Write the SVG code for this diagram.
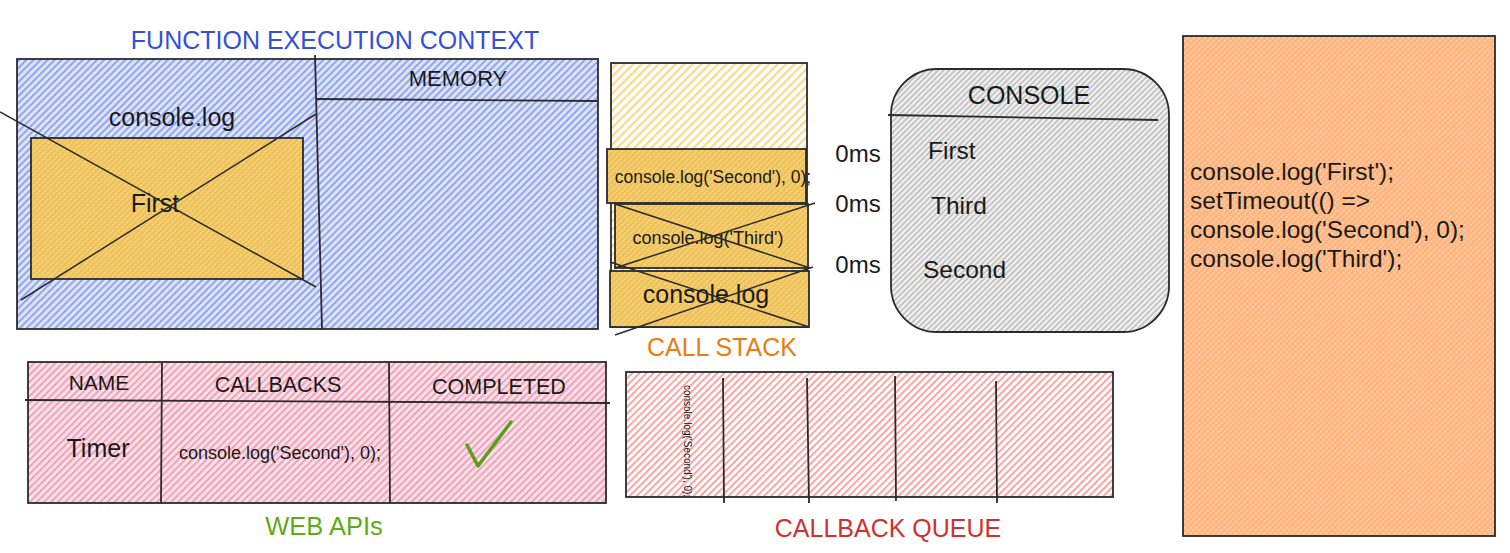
<svg xmlns="http://www.w3.org/2000/svg" width="1510" height="553" viewBox="0 0 1510 553">
<style>
text{font-family:"Liberation Sans",Arial,sans-serif;fill:#1a1a1a}
.box{stroke:#2b2b2b;stroke-width:1.8}
.ln{stroke:#2b2b2b;stroke-width:1.8;fill:none}
.x{stroke:#2b2b2b;stroke-width:1.5;fill:none}
.c{text-anchor:middle}
</style>
<defs>
<pattern id="pBlue" width="5" height="5" patternUnits="userSpaceOnUse" patternTransform="rotate(45)">
<rect width="5" height="5" fill="#dde3fb"/><line x1="1" y1="0" x2="1" y2="5" stroke="#8a9fec" stroke-width="1.8"/></pattern>
<pattern id="pYel" width="4" height="4" patternUnits="userSpaceOnUse" patternTransform="rotate(45)">
<rect width="4" height="4" fill="#f6d27c"/><line x1="1" y1="0" x2="1" y2="4" stroke="#e6b43e" stroke-width="1.2"/><line x1="0" y1="1" x2="4" y2="1" stroke="#f2c45a" stroke-width="1"/></pattern>
<pattern id="pYelLight" width="6" height="6" patternUnits="userSpaceOnUse" patternTransform="rotate(45)">
<rect width="6" height="6" fill="#fff"/><line x1="1" y1="0" x2="1" y2="6" stroke="#fbd98a" stroke-width="2.5"/></pattern>
<pattern id="pPink" width="5" height="5" patternUnits="userSpaceOnUse" patternTransform="rotate(45)">
<rect width="5" height="5" fill="#fbe0e7"/><line x1="1" y1="0" x2="1" y2="5" stroke="#ef9cb3" stroke-width="1.8"/></pattern>
<pattern id="pRed" width="5" height="5" patternUnits="userSpaceOnUse" patternTransform="rotate(45)">
<rect width="5" height="5" fill="#fff"/><line x1="1" y1="0" x2="1" y2="5" stroke="#ffa3a3" stroke-width="2"/></pattern>
<pattern id="pGray" width="4" height="4" patternUnits="userSpaceOnUse" patternTransform="rotate(45)">
<rect width="4" height="4" fill="#f2f2f2"/><line x1="1" y1="0" x2="1" y2="4" stroke="#a8a8a8" stroke-width="1.2"/></pattern>
<pattern id="pOrange" width="4" height="4" patternUnits="userSpaceOnUse" patternTransform="rotate(45)">
<rect width="4" height="4" fill="#ffcba6"/><line x1="1" y1="0" x2="1" y2="4" stroke="#ffa866" stroke-width="1.3"/><line x1="0" y1="1" x2="4" y2="1" stroke="#ffb076" stroke-width="1.1"/></pattern>
</defs>
<rect width="1510" height="553" fill="#fff"/>

<g id="fec">
<text x="335" y="49" class="c" font-size="25" style="fill:#3550d4">FUNCTION EXECUTION CONTEXT</text>
<rect x="17" y="59" width="581" height="270" fill="url(#pBlue)" class="box"/>
<line x1="315" y1="55" x2="322" y2="329" class="ln"/>
<line x1="316" y1="99" x2="598" y2="101" class="ln" stroke-width="2.5"/>
<text x="458" y="86" class="c" font-size="22">MEMORY</text>
<text x="172" y="126" class="c" font-size="25">console.log</text>
<rect x="31" y="138" width="272" height="141" fill="url(#pYel)" class="box"/>
<text x="155" y="212" class="c" font-size="25">First</text>
<line x1="0" y1="112" x2="316" y2="287" class="x"/>
<line x1="21" y1="300" x2="316" y2="114" class="x"/>
</g>

<g id="callstack">
<rect x="611" y="63" width="196" height="264" fill="url(#pYelLight)" class="box"/>
<rect x="607" y="149" width="199" height="54" fill="url(#pYel)" class="box"/>
<text x="713" y="183" class="c" font-size="17.5">console.log('Second'), 0);</text>
<rect x="615" y="204" width="193" height="64" fill="url(#pYel)" class="box"/>
<text x="708" y="244" class="c" font-size="18">console.log('Third')</text>
<line x1="615" y1="204" x2="810" y2="268" class="x"/>
<line x1="815" y1="203" x2="615" y2="268" class="x"/>
<rect x="610" y="271" width="199" height="56" fill="url(#pYel)" class="box"/>
<text x="706" y="303" class="c" font-size="25">console.log</text>
<line x1="610" y1="262" x2="809" y2="327" class="x"/>
<line x1="615" y1="335" x2="813" y2="267" class="x"/>
<text x="722" y="356" class="c" font-size="25" style="fill:#e97d0f">CALL STACK</text>
</g>

<g id="timings">
<text x="858" y="162" class="c" font-size="24">0ms</text>
<text x="858" y="212" class="c" font-size="24">0ms</text>
<text x="858" y="273" class="c" font-size="24">0ms</text>
</g>

<g id="console">
<rect x="891" y="69" width="278" height="263" rx="46" ry="46" fill="url(#pGray)" class="box"/>
<line x1="888" y1="115" x2="1158" y2="120" class="ln"/>
<text x="1029" y="104" class="c" font-size="25">CONSOLE</text>
<text x="928" y="159" font-size="24.5">First</text>
<text x="931" y="214" font-size="24.5">Third</text>
<text x="923" y="278" font-size="24.5">Second</text>
</g>

<g id="code">
<rect x="1183" y="36" width="312" height="500" fill="url(#pOrange)" class="box" stroke-width="1.4"/>
<text font-size="24.5"><tspan x="1190" y="180">console.log('First');</tspan><tspan x="1190" y="209">setTimeout(() =&gt;</tspan><tspan x="1190" y="238">console.log('Second'), 0);</tspan><tspan x="1190" y="267">console.log('Third');</tspan></text>
</g>

<g id="webapis">
<rect x="28" y="362" width="578" height="141" fill="url(#pPink)" class="box"/>
<line x1="25" y1="400" x2="610" y2="403" class="ln"/>
<line x1="162" y1="362" x2="161" y2="503" class="ln"/>
<line x1="389" y1="362" x2="390" y2="503" class="ln"/>
<text x="99" y="390" class="c" font-size="21">NAME</text>
<text x="278" y="392" class="c" font-size="21.5">CALLBACKS</text>
<text x="499" y="394" class="c" font-size="21.5">COMPLETED</text>
<text x="98" y="457" class="c" font-size="25">Timer</text>
<text x="280" y="459" class="c" font-size="18">console.log('Second'), 0);</text>
<path d="M467 445 L478 466 L511 422" fill="none" stroke="#5a9e1a" stroke-width="3.5" stroke-linecap="round" stroke-linejoin="round"/>
<text x="324" y="535" class="c" font-size="25.5" style="fill:#60a917">WEB APIs</text>
</g>

<g id="callbackqueue">
<rect x="626" y="372" width="487" height="125" fill="url(#pRed)" class="box"/>
<line x1="723" y1="378" x2="724" y2="503" class="ln"/>
<line x1="807" y1="378" x2="809" y2="503" class="ln"/>
<line x1="895" y1="376" x2="896" y2="501" class="ln"/>
<line x1="996" y1="381" x2="997" y2="503" class="ln"/>
<text transform="translate(684,441) rotate(90)" class="c" font-size="10">console.log('Second'), 0);</text>
<text x="888" y="537" class="c" font-size="25" style="fill:#d0312d">CALLBACK QUEUE</text>
</g>

<g id="connectors"></g>
</svg>
